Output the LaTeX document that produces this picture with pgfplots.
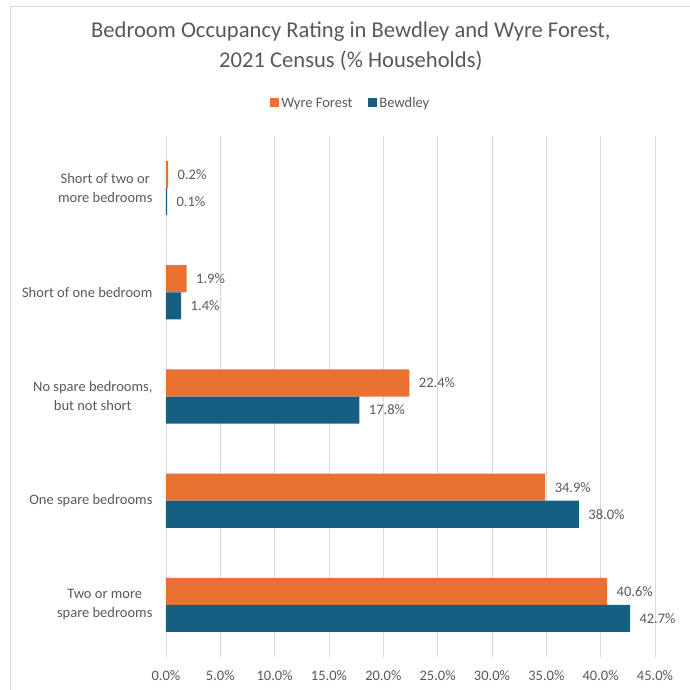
\documentclass[border=0pt]{standalone}
\usepackage{fontspec}
\setmainfont{Carlito}
\usepackage{pgfplots}
\pgfplotsset{compat=1.18}
\definecolor{wyre}{HTML}{E97132}
\definecolor{bewd}{HTML}{156082}
\definecolor{txt}{HTML}{595959}
\definecolor{grd}{HTML}{D9D9D9}

\begin{document}
\begin{tikzpicture}
\begin{axis}[
    xbar,
    scale only axis,
    width=489pt, height=521pt,
    xmin=0, xmax=45,
    ymin=-0.5, ymax=4.5,
    y dir=reverse,
    bar width=0.26,
    xtick={0,5,...,45},
    ytick={0,1,2,3,4},
    yticklabels={{Short of two or\\more bedrooms},{Short of one bedroom},{No spare bedrooms,\\but not short},{One spare bedrooms},{Two or more\\spare bedrooms}},
    yticklabel style={align=center, font=\fontsize{14.5}{19}\selectfont, text=txt, xshift=-10pt},
    xticklabel={\pgfmathprintnumber[fixed,fixed zerofill,precision=1]{\tick}\%},
    xticklabel style={font=\fontsize{14.5}{17}\selectfont, text=txt, yshift=-10pt},
    /pgf/number format/assume math mode=true,
    xmajorgrids,
    grid style={grd, line width=0.8pt},
    axis line style={draw=none},
    major tick length=0pt,
    nodes near coords={\pgfmathprintnumber[fixed,fixed zerofill,precision=1]{\pgfplotspointmeta}\%},
    nodes near coords style={font=\fontsize{14.5}{17}\selectfont, text=txt, anchor=west, xshift=6pt},
    title={Bedroom Occupancy Rating in Bewdley and Wyre Forest,\\2021 Census (\% Households)},
    title style={at={(0.378,1.161)}, anchor=center, align=center, font=\fontsize{22.6}{30}\selectfont, text=txt},
    legend style={at={(0.378,1.063)}, anchor=center, draw=none, legend columns=-1,
        font=\fontsize{14.5}{17}\selectfont, text=txt,
        /tikz/every even column/.append style={column sep=14pt}},
    legend image code/.code={\fill[#1] (0pt,-3.5pt) rectangle (9pt,5.5pt);},
]
\addplot[fill=wyre, draw=none, bar shift=-0.13] coordinates {(0.2,0) (1.9,1) (22.4,2) (34.9,3) (40.6,4)};
\addplot[fill=bewd, draw=none, bar shift=0.13] coordinates {(0.1,0) (1.4,1) (17.8,2) (38.0,3) (42.7,4)};
\legend{Wyre Forest, Bewdley}
\end{axis}
\pgfresetboundingbox
\path[use as bounding box] (-166pt,-33pt) rectangle (523pt,657pt);
\draw[grd, line width=1pt] (-155pt,-40pt) -- (-155pt,650pt) -- (530pt,650pt);
\end{tikzpicture}
\end{document}
